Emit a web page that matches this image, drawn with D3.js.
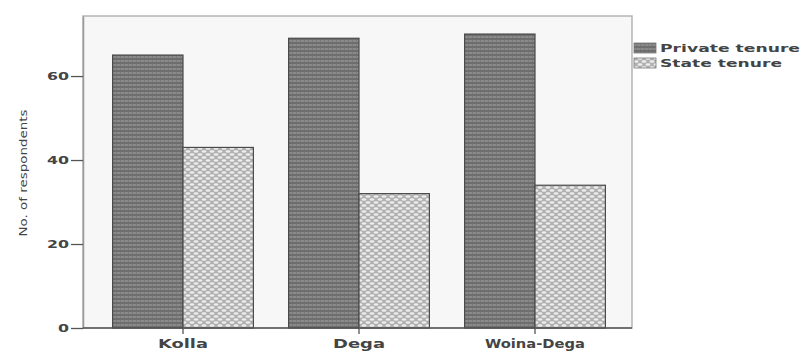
<!DOCTYPE html>
<html><head><meta charset="utf-8">
<script src="https://cdn.jsdelivr.net/npm/d3@7"></script>
<style>body{margin:0;background:#fff}svg{display:block}</style>
</head><body><div id="chart"></div>
<script>
const categories = ["Kolla", "Dega", "Woina-Dega"];
const seriesNames = ["Private tenure", "State tenure"];
const privateValues = [65, 69, 70];
const stateValues = [43, 32, 34];
const yTicks = [0, 20, 40, 60];

const W = 804, H = 352;
const frame = {l: 83, t: 16, r: 632, b: 328};
const svg = d3.select("#chart").append("svg").attr("width", W).attr("height", H);
const defs = svg.append("defs");

const p1 = defs.append("pattern").attr("id","pPriv").attr("patternUnits","userSpaceOnUse").attr("width",4).attr("height",4);
p1.append("rect").attr("width",4).attr("height",4).attr("fill","#8a8a8a");
p1.append("rect").attr("y",2).attr("width",4).attr("height",2).attr("fill","#6e6e6e");
p1.append("rect").attr("x",0).attr("y",0).attr("width",1).attr("height",2).attr("fill","#7c7c7c");
const p2 = defs.append("pattern").attr("id","pState").attr("patternUnits","userSpaceOnUse").attr("width",8).attr("height",6);
p2.append("rect").attr("width",8).attr("height",6).attr("fill","#b0b0b0");
p2.append("ellipse").attr("cx",4).attr("cy",1.5).attr("rx",2.5).attr("ry",1.2).attr("fill","#eeeeee");
p2.append("ellipse").attr("cx",0).attr("cy",4.5).attr("rx",2.5).attr("ry",1.2).attr("fill","#eeeeee");
p2.append("ellipse").attr("cx",8).attr("cy",4.5).attr("rx",2.5).attr("ry",1.2).attr("fill","#eeeeee");

const y = d3.scaleLinear().domain([0, 74.3]).range([frame.b, frame.t]);
const x = d3.scaleBand().domain(categories).range([95, 623]).paddingInner(0.2).paddingOuter(0.1);
const xs = d3.scaleBand().domain(seriesNames).range([0, x.bandwidth()]);

svg.append("rect").attr("x",frame.l).attr("y",frame.t).attr("width",frame.r-frame.l).attr("height",frame.b-frame.t)
  .attr("fill","#f7f7f7").attr("stroke","#b5b5b5").attr("stroke-width",1.5);

const data = [];
categories.forEach((c,i)=>{
  data.push({c, s:seriesNames[0], v:privateValues[i]});
  data.push({c, s:seriesNames[1], v:stateValues[i]});
});
svg.append("g").selectAll("rect").data(data).join("rect")
  .attr("x", d=>x(d.c)+xs(d.s))
  .attr("y", d=>y(d.v))
  .attr("width", xs.bandwidth())
  .attr("height", d=>y(0)-y(d.v))
  .attr("fill", d=> d.s===seriesNames[0] ? "url(#pPriv)" : "url(#pState)")
  .attr("stroke", "#4a4a4a").attr("stroke-width", 1.2);

const ya = svg.append("g").attr("transform",`translate(${frame.l},0)`)
  .call(d3.axisLeft(y).tickValues(yTicks).tickSize(12).tickSizeOuter(0).tickPadding(2));
ya.select(".domain").attr("stroke","#999").attr("stroke-width",1.5);
ya.selectAll(".tick line").attr("stroke","#555").attr("stroke-width",1.3);
ya.selectAll(".tick text").attr("font-family","DejaVu Sans").attr("font-size",11).attr("font-weight","bold")
  .attr("fill","#444").attr("dy","0.35em")
  .each(function(d){ d3.select(this).attr("textLength", String(d).length*11).attr("lengthAdjust","spacingAndGlyphs"); });

const xa = svg.append("g").attr("transform",`translate(0,${frame.b})`)
  .call(d3.axisBottom(x).tickSize(6).tickSizeOuter(0).tickPadding(6));
xa.select(".domain").attr("d", `M${frame.l},0H${frame.r}`).attr("stroke","#555").attr("stroke-width",1.5);
xa.selectAll(".tick line").attr("stroke","#555").attr("stroke-width",1.3);
const xlw = {"Kolla":50, "Dega":52, "Woina-Dega":100};
xa.selectAll(".tick text").attr("font-family","DejaVu Sans").attr("font-size",11.5).attr("font-weight","bold")
  .attr("fill","#444")
  .attr("textLength", d=>xlw[d]).attr("lengthAdjust","spacingAndGlyphs");

svg.append("text").attr("transform","translate(27,173) rotate(-90)")
  .attr("text-anchor","middle").attr("font-family","DejaVu Sans").attr("font-size",11)
  .attr("fill","#444").attr("textLength",127).attr("lengthAdjust","spacingAndGlyphs")
  .text("No. of respondents");

const lg = svg.append("g");
const lw = [140, 122];
seriesNames.forEach((s,i)=>{
  const cy = 48 + i*15;
  lg.append("rect").attr("x",634).attr("y",cy-5).attr("width",22).attr("height",10)
    .attr("fill", i===0 ? "url(#pPriv)" : "url(#pState)").attr("stroke","#777").attr("stroke-width",0.8);
  lg.append("text").attr("x",660).attr("y",cy).attr("dy","0.35em")
    .attr("font-family","DejaVu Sans").attr("font-size",10).attr("font-weight","bold").attr("fill","#444")
    .attr("textLength",lw[i]).attr("lengthAdjust","spacingAndGlyphs").text(s);
});
</script></body></html>
